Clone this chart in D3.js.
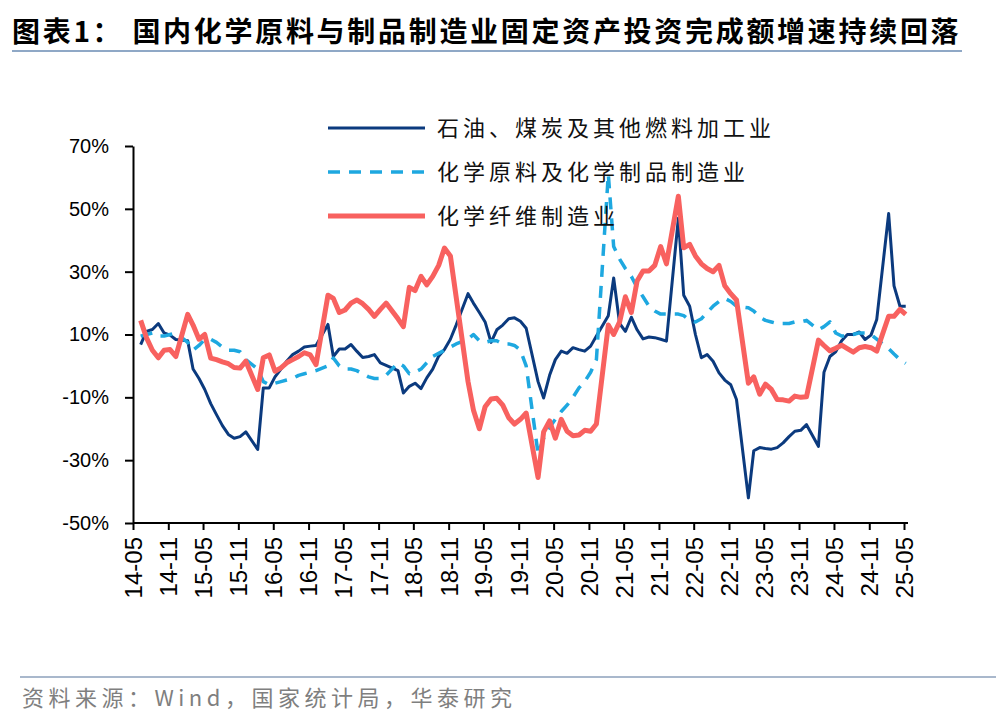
<!DOCTYPE html>
<html>
<head>
<meta charset="utf-8">
<script src="https://cdn.jsdelivr.net/npm/d3@7"></script>
<style>
  html, body { margin: 0; padding: 0; background: #fff; }
  svg { display: block; }
  .axis path, .axis line { stroke: #000; stroke-width: 2px; }
  .axis text { font-family: 'Liberation Sans', Arial, sans-serif; font-size: 20px; fill: #000; }
</style>
</head>
<body>
<svg id="chart" width="996" height="722"></svg>
<script>
const series_names = ['石油、煤炭及其他燃料加工业', '化学原料及化学制品制造业', '化学纤维制造业'];

// 2014-06 ... 2025-05, no January figures (Jan-Feb reported together)
const petro_values = [
  6.8, 11, 11.6, 13.5, 10.5, 9.8, 8.4,
  8, -1, -4, -7.5, -12, -15.5, -19, -21.8, -23, -22.5, -21,
  -26.6, -7, -7, -3.5, -1, 1.5, 3.6, 4.7, 6, 6.3, 6.5,
  13.2, 3, 5.4, 5.4, 6.8, 4.7, 2.7, 3, 3.6, 1, 0.2,
  -1.5, -8.6, -6.5, -5.5, -7.2, -3.8, -1, 3.1, 5.2, 8.5, 13,
  23, 20, 17, 14, 7.5, 11.5, 13, 15, 15.3, 14.2, 12,
  -5, -10.2, -3, 2, 4.7, 4, 5.8, 5.2, 4.7, 6.3, 9.5,
  16, 28, 13.5, 11, 15.5, 11.5, 8.6, 9.2, 9, 8.5, 7.9,
  47, 22.5, 19, 10, 2.6, 3.6, 1.5, -2.2, -4.5, -6, -10.7,
  -42, -27, -26, -26.3, -26.5, -26, -24.5, -22.5, -20.8, -20.5, -18.7,
  -25.6, -2, 3, 4.5, 8, 10, 10, 10.8, 8.4, 9.8, 14.8,
  48.5, 25.5, 19, 19
];

const chem_values = [
  9.5, 10, 10.5, 9.5, 9.5, 10, 10.5,
  7.5, 5, 6.5, 8.5, 8.5, 7.5, 6, 5, 5, 4.5, 2,
  -1, -5, -6, -5.5, -5, -4.5, -4, -3, -2.5, -2, -1.5,
  0, 2.5, 0, -1, -1, -1.5, -2.5, -3.5, -4, -4, -3,
  1, 0, -2.5, -2, -1, 1, 3, 4, 5, 6, 7,
  8.5, 10, 8, 7.5, 8, 8, 7, 7, 6.5, 5, 0,
  -28, -23, -19.5, -17, -14.5, -12.5, -10, -7, -5, -2, 2,
  61, 38, 34, 31, 28.5, 25, 22, 19, 17.5, 16.5, 16.5,
  16.5, 16, 14.5, 14, 15, 17, 19, 20.5, 21.5, 20.5, 19,
  18.5, 17.5, 15.5, 14.5, 14, 13.5, 13.5, 13.5, 14, 14, 14.5,
  11.5, 12.5, 14, 10.5, 9.5, 9.5, 10, 10.5, 10.5, 10, 8.5,
  5.5, 3.8, 2, 0.8
];

const fiber_values = [
  14.5, 9, 5, 2.6, 5, 5.2, 3,
  16.4, 13, 8.5, 10, 2.5, 2, 1.3, 0.7, -0.5, -0.7, 1.5,
  -7.5, 2.6, 3.5, -1.7, -0.6, 1, 2, 3, 4.2, 3.5, 0.4,
  22.5, 21.5, 17, 17.8, 20, 21, 19.8, 18, 15.8, 18, 20,
  15, 12.5, 25, 24, 28.5, 25.8, 28.5, 32, 37.5, 35, 22,
  -5, -14, -20, -13, -10.5, -10.3, -12.5, -16.5, -18.5, -17, -15,
  -35.5, -21, -17.5, -23, -17, -20.8, -22.2, -22, -20.5, -20.8, -18.5,
  13, 10, 14, 22, 17, 27, 30.2, 30.2, 32, 38, 32.5,
  54, 37.6, 38.7, 35, 32.5, 31, 30, 32, 25.5, 23, 21,
  -5.5, -3.5, -9, -5.8, -7.5, -10.7, -10.8, -11.2, -9.6, -10, -9.8,
  8.2, 6.5, 4.8, 5.6, 6.6, 5.5, 4.4, 5.8, 6.2, 5.8, 4.7,
  15.8, 15.8, 18, 16.4
];

const y_ticks = [-50, -30, -10, 10, 30, 50, 70];

const months = d3
  .timeMonth
  .range(new Date(2014, 5, 1), new Date(2025, 5, 1))
  .filter(d => d.getMonth() !== 0)
  .map(d => new Date(d.getFullYear(), d.getMonth(), 10));

// 14-05, 14-11, ... 25-05
const x_ticks = d3.timeMonth.range(new Date(2014, 4, 1), new Date(2025, 5, 1), 6);

const colors = ['#0b3a7e', '#1ea8e0', '#f8615f'];
const widths = [3, 3.5, 5];
const dashes = [null, '12,9', null];

const svg = d3.select('#chart');

// title + rules
svg.append('text')
  .attr('x', 12)
  .attr('y', 42)
  .attr('font-family', "'Noto Sans CJK SC', sans-serif")
  .attr('font-weight', 'bold')
  .attr('font-size', 28)
  .attr('letter-spacing', 2.7)
  .attr('fill', '#000')
  .text('图表1：  国内化学原料与制品制造业固定资产投资完成额增速持续回落');

svg.append('line')
  .attr('x1', 12).attr('x2', 962)
  .attr('y1', 51).attr('y2', 51)
  .attr('stroke', '#8fa8c6')
  .attr('stroke-width', 2);

svg.append('line')
  .attr('x1', 20).attr('x2', 996)
  .attr('y1', 677).attr('y2', 677)
  .attr('stroke', '#a9b8cc')
  .attr('stroke-width', 2);

svg.append('text')
  .attr('x', 22)
  .attr('y', 706)
  .attr('font-family', "'Noto Sans CJK SC', sans-serif")
  .attr('font-size', 22)
  .attr('letter-spacing', 4.5)
  .attr('fill', '#7f7f7f')
  .text('资料来源：Wind，国家统计局，华泰研究');

const x = d3.scaleTime()
  .domain([new Date(2014, 4, 1), new Date(2025, 4, 1)])
  .range([133, 904]);

const y = d3.scaleLinear()
  .domain([-50, 70])
  .range([523, 146]);

const g = svg.append('g');

g.append('g')
  .attr('class', 'axis axis-y')
  .attr('transform', 'translate(133,0)')
  .call(d3.axisLeft(y)
    .tickValues(y_ticks)
    .tickFormat(d => d + '%')
    .tickSizeInner(8)
    .tickSizeOuter(0)
    .tickPadding(16));

const axis_x = g.append('g')
  .attr('class', 'axis axis-x')
  .attr('transform', 'translate(0,523)')
  .call(d3.axisBottom(x)
    .tickValues(x_ticks)
    .tickFormat(d3.timeFormat('%y-%m'))
    .tickSizeInner(7)
    .tickSizeOuter(0));

axis_x.select('.domain').attr('d', 'M133,0H908');

axis_x.selectAll('text')
  .attr('transform', 'rotate(-90)')
  .attr('text-anchor', 'end')
  .attr('x', -14)
  .attr('y', 0)
  .attr('dy', '0.35em')
  .style('font-size', '24px');

const all_values = [petro_values, chem_values, fiber_values];

const line = d3.line()
  .x((d, i) => x(months[i]))
  .y(d => y(d));

g.selectAll('.series')
  .data(all_values)
  .join('path')
  .attr('class', 'series')
  .attr('fill', 'none')
  .attr('stroke', (d, i) => colors[i])
  .attr('stroke-width', (d, i) => widths[i])
  .attr('stroke-dasharray', (d, i) => dashes[i])
  .attr('stroke-linejoin', 'round')
  .attr('d', line);

// legend
const legend = g.selectAll('.legend')
  .data(series_names)
  .join('g')
  .attr('class', 'legend')
  .attr('transform', (d, i) => `translate(328,${128 + i * 44})`);

legend.append('line')
  .attr('x1', 0).attr('x2', 97)
  .attr('stroke', (d, i) => colors[i])
  .attr('stroke-width', (d, i) => widths[i])
  .attr('stroke-dasharray', (d, i) => dashes[i]);

legend.append('text')
  .attr('x', 109)
  .attr('y', 8)
  .attr('font-family', "'Noto Sans CJK SC', sans-serif")
  .attr('font-size', 22)
  .attr('letter-spacing', 4)
  .attr('fill', '#111')
  .text(d => d);
</script>
</body>
</html>
